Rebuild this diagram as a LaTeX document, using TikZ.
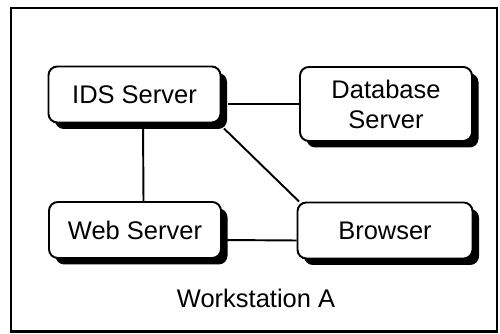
\documentclass[tikz,border=0pt]{standalone}
\usepackage{fontspec}
\setmainfont{Liberation Sans}
\usetikzlibrary{shadows,calc}

\begin{document}
\begin{tikzpicture}[
    server/.style={rectangle, draw=black, line width=1.1pt, fill=white,
                   minimum width=3.44cm, minimum height=1.12cm, align=center, rounded corners=5pt,
                   font=\fontsize{14.5}{17}\selectfont,
                   drop shadow={shadow xshift=0.13cm, shadow yshift=-0.13cm, fill=black, opacity=1}},
    link/.style={line width=1.1pt, black}
  ]
    \useasboundingbox (0,0) rectangle (10,6.68);
    \draw[line width=1.4pt] (0.22,0.05) rectangle (9.94,6.52);

    \node[server] (ids) at (2.69, 4.79) {IDS Server};
    \node[server, minimum height=1.48cm, inner sep=1pt] (db) at (7.72, 4.6) {Database\\Server};
    \node[server] (web) at (2.7, 2.08) {Web Server};
    \node[server, minimum width=3.5cm] (browser) at (7.7, 2.07) {Browser};

    \node[font=\fontsize{14.5}{17}\selectfont] (ws) at (5.12, 0.72) {Workstation A};

    \draw[link] ($(db.west -| ids.east)+(0.13,0)$) -- (db.west);
    \draw[link] ([xshift=0.17cm]ids.south) -- ([xshift=0.17cm]web.north);
    \draw[link] ([yshift=-0.2cm]web.east) -- ([yshift=-0.2cm]browser.west);
    \draw[link] ([xshift=0.05cm, yshift=-0.1cm]ids.south east) -- ([xshift=0.05cm]browser.north west);
  \end{tikzpicture}
\end{document}
